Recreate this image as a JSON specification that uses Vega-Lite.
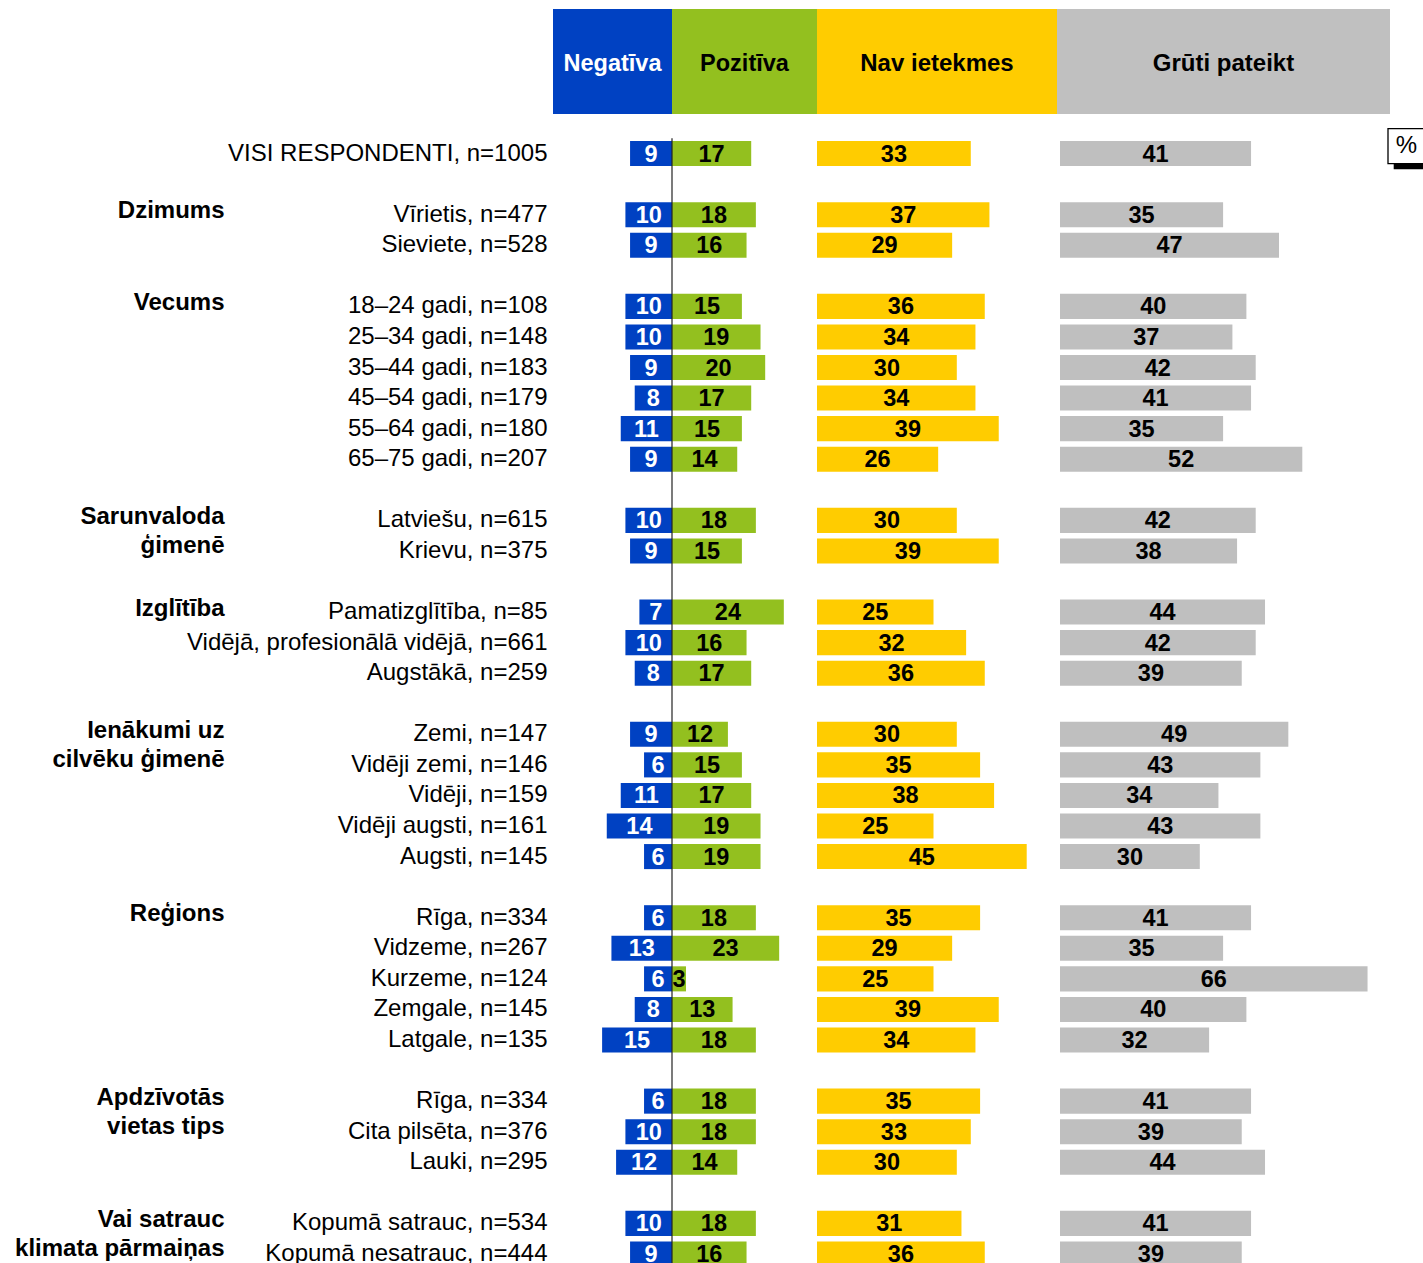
{
  "$schema": "https://vega.github.io/schema/vega-lite/v6.json",
  "padding": {"top": 9, "left": 0, "right": 0, "bottom": 0},
  "background": "white",
  "config": {"font": "Liberation Sans", "view": {"stroke": null}},
  "bounds": "full",
  "spacing": 13.25,
  "datasets": {
    "d": [
      {"row": "|VISI RESPONDENTI, n=1005", "neg": 9, "pos": 17, "none": 33, "hard": 41},
      {"row": "Dzimums|Vīrietis, n=477", "neg": 10, "pos": 18, "none": 37, "hard": 35},
      {"row": "|Sieviete, n=528", "neg": 9, "pos": 16, "none": 29, "hard": 47},
      {"row": "Vecums|18–24 gadi, n=108", "neg": 10, "pos": 15, "none": 36, "hard": 40},
      {"row": "|25–34 gadi, n=148", "neg": 10, "pos": 19, "none": 34, "hard": 37},
      {"row": "|35–44 gadi, n=183", "neg": 9, "pos": 20, "none": 30, "hard": 42},
      {"row": "|45–54 gadi, n=179", "neg": 8, "pos": 17, "none": 34, "hard": 41},
      {"row": "|55–64 gadi, n=180", "neg": 11, "pos": 15, "none": 39, "hard": 35},
      {"row": "|65–75 gadi, n=207", "neg": 9, "pos": 14, "none": 26, "hard": 52},
      {"row": "Sarunvaloda~ģimenē|Latviešu, n=615", "neg": 10, "pos": 18, "none": 30, "hard": 42},
      {"row": "|Krievu, n=375", "neg": 9, "pos": 15, "none": 39, "hard": 38},
      {"row": "Izglītība|Pamatizglītība, n=85", "neg": 7, "pos": 24, "none": 25, "hard": 44},
      {"row": "|Vidējā, profesionālā vidējā, n=661", "neg": 10, "pos": 16, "none": 32, "hard": 42},
      {"row": "|Augstākā, n=259", "neg": 8, "pos": 17, "none": 36, "hard": 39},
      {"row": "Ienākumi uz~cilvēku ģimenē|Zemi, n=147", "neg": 9, "pos": 12, "none": 30, "hard": 49},
      {"row": "|Vidēji zemi, n=146", "neg": 6, "pos": 15, "none": 35, "hard": 43},
      {"row": "|Vidēji, n=159", "neg": 11, "pos": 17, "none": 38, "hard": 34},
      {"row": "|Vidēji augsti, n=161", "neg": 14, "pos": 19, "none": 25, "hard": 43},
      {"row": "|Augsti, n=145", "neg": 6, "pos": 19, "none": 45, "hard": 30},
      {"row": "Reģions|Rīga, n=334", "neg": 6, "pos": 18, "none": 35, "hard": 41},
      {"row": "|Vidzeme, n=267", "neg": 13, "pos": 23, "none": 29, "hard": 35},
      {"row": "|Kurzeme, n=124", "neg": 6, "pos": 3, "none": 25, "hard": 66},
      {"row": "|Zemgale, n=145", "neg": 8, "pos": 13, "none": 39, "hard": 40},
      {"row": "|Latgale, n=135", "neg": 15, "pos": 18, "none": 34, "hard": 32},
      {"row": "Apdzīvotās~vietas tips|Rīga, n=334", "neg": 6, "pos": 18, "none": 35, "hard": 41},
      {"row": "|Cita pilsēta, n=376", "neg": 10, "pos": 18, "none": 33, "hard": 39},
      {"row": "|Lauki, n=295", "neg": 12, "pos": 14, "none": 30, "hard": 44},
      {"row": "Vai satrauc~klimata pārmaiņas|Kopumā satrauc, n=534", "neg": 10, "pos": 18, "none": 31, "hard": 41},
      {"row": "|Kopumā nesatrauc, n=444", "neg": 9, "pos": 16, "none": 36, "hard": 39}
    ]
  },
  "vconcat": [
    {
      "bounds": "flush",
      "spacing": 0,
      "hconcat": [
        {"width": 553, "height": 105, "data": {"values": [{"h": ""}]}, "mark": {"type": "text"}, "encoding": {"text": {"field": "h"}}},
        {"width": 119, "height": 105, "view": {"fill": "#0041C2", "stroke": null}, "data": {"values": [{"h": "Negatīva"}]}, "mark": {"type": "text", "fontSize": 23.5, "fontWeight": "bold", "fill": "white", "dy": 2}, "encoding": {"text": {"field": "h"}}},
        {"width": 145, "height": 105, "view": {"fill": "#93C01F", "stroke": null}, "data": {"values": [{"h": "Pozitīva"}]}, "mark": {"type": "text", "fontSize": 23.5, "fontWeight": "bold", "fill": "black", "dy": 2}, "encoding": {"text": {"field": "h"}}},
        {"width": 240, "height": 105, "view": {"fill": "#FFCC00", "stroke": null}, "data": {"values": [{"h": "Nav ietekmes"}]}, "mark": {"type": "text", "fontSize": 24, "fontWeight": "bold", "fill": "black", "dy": 2}, "encoding": {"text": {"field": "h"}}},
        {"width": 333, "height": 105, "view": {"fill": "#C0C0C0", "stroke": null}, "data": {"values": [{"h": "Grūti pateikt"}]}, "mark": {"type": "text", "fontSize": 24, "fontWeight": "bold", "fill": "black", "dy": 2}, "encoding": {"text": {"field": "h"}}}
      ]
    },
    {
      "bounds": "flush",
      "spacing": 0,
      "hconcat": [
        {
          "width": 553, "height": 1131,
          "data": {"name": "d"},
          "mark": {"type": "text", "text": ""},
          "encoding": {
            "y": {"field": "row", "type": "nominal",
              "scale": {"paddingInner": 0.18, "paddingOuter": 0.09, "domain": ["|VISI RESPONDENTI, n=1005", "_1|", "Dzimums|Vīrietis, n=477", "|Sieviete, n=528", "_2|", "Vecums|18–24 gadi, n=108", "|25–34 gadi, n=148", "|35–44 gadi, n=183", "|45–54 gadi, n=179", "|55–64 gadi, n=180", "|65–75 gadi, n=207", "_3|", "Sarunvaloda~ģimenē|Latviešu, n=615", "|Krievu, n=375", "_4|", "Izglītība|Pamatizglītība, n=85", "|Vidējā, profesionālā vidējā, n=661", "|Augstākā, n=259", "_5|", "Ienākumi uz~cilvēku ģimenē|Zemi, n=147", "|Vidēji zemi, n=146", "|Vidēji, n=159", "|Vidēji augsti, n=161", "|Augsti, n=145", "_6|", "Reģions|Rīga, n=334", "|Vidzeme, n=267", "|Kurzeme, n=124", "|Zemgale, n=145", "|Latgale, n=135", "_7|", "Apdzīvotās~vietas tips|Rīga, n=334", "|Cita pilsēta, n=376", "|Lauki, n=295", "_8|", "Vai satrauc~klimata pārmaiņas|Kopumā satrauc, n=534", "|Kopumā nesatrauc, n=444"]},
              "axis": {"orient": "left", "title": null, "ticks": false, "tickSize": 0, "domain": false, "labelPadding": -224, "labelExpr": "indexof(datum.label, '_') == 0 ? '' : split(split(datum.label, '|')[0], '~')", "labelFontSize": 24, "labelFontWeight": "bold", "labelColor": "#000000", "labelBaseline": "top", "labelOffset": -16, "labelLineHeight": 29, "labelLimit": 0, "labelOverlap": false}
            }
          }
        },
        {
          "width": 119, "height": 1131,
          "data": {"name": "d"},
          "encoding": {
            "y": {"field": "row", "type": "nominal",
              "scale": {"paddingInner": 0.18, "paddingOuter": 0.09, "domain": ["|VISI RESPONDENTI, n=1005", "_1|", "Dzimums|Vīrietis, n=477", "|Sieviete, n=528", "_2|", "Vecums|18–24 gadi, n=108", "|25–34 gadi, n=148", "|35–44 gadi, n=183", "|45–54 gadi, n=179", "|55–64 gadi, n=180", "|65–75 gadi, n=207", "_3|", "Sarunvaloda~ģimenē|Latviešu, n=615", "|Krievu, n=375", "_4|", "Izglītība|Pamatizglītība, n=85", "|Vidējā, profesionālā vidējā, n=661", "|Augstākā, n=259", "_5|", "Ienākumi uz~cilvēku ģimenē|Zemi, n=147", "|Vidēji zemi, n=146", "|Vidēji, n=159", "|Vidēji augsti, n=161", "|Augsti, n=145", "_6|", "Reģions|Rīga, n=334", "|Vidzeme, n=267", "|Kurzeme, n=124", "|Zemgale, n=145", "|Latgale, n=135", "_7|", "Apdzīvotās~vietas tips|Rīga, n=334", "|Cita pilsēta, n=376", "|Lauki, n=295", "_8|", "Vai satrauc~klimata pārmaiņas|Kopumā satrauc, n=534", "|Kopumā nesatrauc, n=444"]},
              "axis": {"orient": "left", "title": null, "ticks": false, "tickSize": 0, "domain": false, "labelPadding": 6, "labelExpr": "split(datum.label, '|')[1]", "labelFontSize": 24, "labelColor": "#000000", "labelLimit": 0, "labelOverlap": false}
            }
          },
          "layer": [
            {"mark": {"type": "bar", "fill": "#0041C2"}, "encoding": {"x": {"field": "neg", "type": "quantitative", "scale": {"domain": [0, 25.54], "reverse": true, "nice": false, "zero": false}, "axis": null}}},
            {"mark": {"type": "text", "fontSize": 23.5, "fontWeight": "bold", "fill": "white", "dy": 1}, "encoding": {"x": {"field": "neg", "type": "quantitative", "scale": {"domain": [0, 51.08], "reverse": true, "nice": false, "zero": false}, "axis": null}, "text": {"field": "neg", "type": "quantitative"}}}
          ],
          "resolve": {"scale": {"x": "independent"}}
        },
        {
          "width": 145, "height": 1131,
          "layer": [
            {"data": {"name": "d"}, "mark": {"type": "bar", "fill": "#93C01F"}, "encoding": {
              "y": {"field": "row", "type": "nominal", "axis": null, "scale": {"paddingInner": 0.18, "paddingOuter": 0.09, "domain": ["|VISI RESPONDENTI, n=1005", "_1|", "Dzimums|Vīrietis, n=477", "|Sieviete, n=528", "_2|", "Vecums|18–24 gadi, n=108", "|25–34 gadi, n=148", "|35–44 gadi, n=183", "|45–54 gadi, n=179", "|55–64 gadi, n=180", "|65–75 gadi, n=207", "_3|", "Sarunvaloda~ģimenē|Latviešu, n=615", "|Krievu, n=375", "_4|", "Izglītība|Pamatizglītība, n=85", "|Vidējā, profesionālā vidējā, n=661", "|Augstākā, n=259", "_5|", "Ienākumi uz~cilvēku ģimenē|Zemi, n=147", "|Vidēji zemi, n=146", "|Vidēji, n=159", "|Vidēji augsti, n=161", "|Augsti, n=145", "_6|", "Reģions|Rīga, n=334", "|Vidzeme, n=267", "|Kurzeme, n=124", "|Zemgale, n=145", "|Latgale, n=135", "_7|", "Apdzīvotās~vietas tips|Rīga, n=334", "|Cita pilsēta, n=376", "|Lauki, n=295", "_8|", "Vai satrauc~klimata pārmaiņas|Kopumā satrauc, n=534", "|Kopumā nesatrauc, n=444"]}},
              "x": {"field": "pos", "type": "quantitative", "scale": {"domain": [0, 31.12], "nice": false, "zero": false}, "axis": null}}},
            {"data": {"name": "d"}, "mark": {"type": "text", "fontSize": 23.5, "fontWeight": "bold", "fill": "black", "dy": 1}, "encoding": {
              "y": {"field": "row", "type": "nominal", "axis": null},
              "x": {"field": "pos", "type": "quantitative", "scale": {"domain": [0, 62.24], "nice": false, "zero": false}, "axis": null},
              "text": {"field": "pos", "type": "quantitative"}}},
            {"data": {"values": [{}]}, "mark": {"type": "rule", "stroke": "#222222", "strokeWidth": 1.2}, "encoding": {
              "x": {"datum": 0, "type": "quantitative", "scale": {"domain": [0, 31.12], "nice": false, "zero": false}, "axis": null}}}
          ],
          "resolve": {"scale": {"x": "independent"}}
        },
        {
          "width": 240, "height": 1131,
          "data": {"name": "d"},
          "encoding": {
            "y": {"field": "row", "type": "nominal", "axis": null,
              "scale": {"paddingInner": 0.18, "paddingOuter": 0.09, "domain": ["|VISI RESPONDENTI, n=1005", "_1|", "Dzimums|Vīrietis, n=477", "|Sieviete, n=528", "_2|", "Vecums|18–24 gadi, n=108", "|25–34 gadi, n=148", "|35–44 gadi, n=183", "|45–54 gadi, n=179", "|55–64 gadi, n=180", "|65–75 gadi, n=207", "_3|", "Sarunvaloda~ģimenē|Latviešu, n=615", "|Krievu, n=375", "_4|", "Izglītība|Pamatizglītība, n=85", "|Vidējā, profesionālā vidējā, n=661", "|Augstākā, n=259", "_5|", "Ienākumi uz~cilvēku ģimenē|Zemi, n=147", "|Vidēji zemi, n=146", "|Vidēji, n=159", "|Vidēji augsti, n=161", "|Augsti, n=145", "_6|", "Reģions|Rīga, n=334", "|Vidzeme, n=267", "|Kurzeme, n=124", "|Zemgale, n=145", "|Latgale, n=135", "_7|", "Apdzīvotās~vietas tips|Rīga, n=334", "|Cita pilsēta, n=376", "|Lauki, n=295", "_8|", "Vai satrauc~klimata pārmaiņas|Kopumā satrauc, n=534", "|Kopumā nesatrauc, n=444"]}}
          },
          "layer": [
            {"mark": {"type": "bar", "fill": "#FFCC00"}, "encoding": {"x": {"field": "none", "type": "quantitative", "scale": {"domain": [0, 51.5], "nice": false, "zero": false}, "axis": null}}},
            {"mark": {"type": "text", "fontSize": 23.5, "fontWeight": "bold", "fill": "black", "dy": 1}, "encoding": {"x": {"field": "none", "type": "quantitative", "scale": {"domain": [0, 103], "nice": false, "zero": false}, "axis": null}, "text": {"field": "none", "type": "quantitative"}}}
          ],
          "resolve": {"scale": {"x": "independent"}}
        },
        {
          "width": 333, "height": 1131,
          "data": {"name": "d"},
          "encoding": {
            "y": {"field": "row", "type": "nominal", "axis": null,
              "scale": {"paddingInner": 0.18, "paddingOuter": 0.09, "domain": ["|VISI RESPONDENTI, n=1005", "_1|", "Dzimums|Vīrietis, n=477", "|Sieviete, n=528", "_2|", "Vecums|18–24 gadi, n=108", "|25–34 gadi, n=148", "|35–44 gadi, n=183", "|45–54 gadi, n=179", "|55–64 gadi, n=180", "|65–75 gadi, n=207", "_3|", "Sarunvaloda~ģimenē|Latviešu, n=615", "|Krievu, n=375", "_4|", "Izglītība|Pamatizglītība, n=85", "|Vidējā, profesionālā vidējā, n=661", "|Augstākā, n=259", "_5|", "Ienākumi uz~cilvēku ģimenē|Zemi, n=147", "|Vidēji zemi, n=146", "|Vidēji, n=159", "|Vidēji augsti, n=161", "|Augsti, n=145", "_6|", "Reģions|Rīga, n=334", "|Vidzeme, n=267", "|Kurzeme, n=124", "|Zemgale, n=145", "|Latgale, n=135", "_7|", "Apdzīvotās~vietas tips|Rīga, n=334", "|Cita pilsēta, n=376", "|Lauki, n=295", "_8|", "Vai satrauc~klimata pārmaiņas|Kopumā satrauc, n=534", "|Kopumā nesatrauc, n=444"]}}
          },
          "layer": [
            {"mark": {"type": "bar", "fill": "#BFBFBF"}, "encoding": {"x": {"field": "hard", "type": "quantitative", "scale": {"domain": [-0.644, 70.82], "nice": false, "zero": false}, "axis": null}}},
            {"mark": {"type": "text", "fontSize": 23.5, "fontWeight": "bold", "fill": "black", "dy": 1}, "encoding": {"x": {"field": "hard", "type": "quantitative", "scale": {"domain": [-1.288, 141.63], "nice": false, "zero": false}, "axis": null}, "text": {"field": "hard", "type": "quantitative"}}}
          ],
          "resolve": {"scale": {"x": "independent"}}
        },
        {
          "width": 33, "height": 1131,
          "data": {"values": [{"row": "|VISI RESPONDENTI, n=1005", "u": "%"}]},
          "encoding": {
            "y": {"field": "row", "type": "nominal", "axis": null,
              "scale": {"paddingInner": 0.18, "paddingOuter": 0.09, "domain": ["|VISI RESPONDENTI, n=1005", "_1|", "Dzimums|Vīrietis, n=477", "|Sieviete, n=528", "_2|", "Vecums|18–24 gadi, n=108", "|25–34 gadi, n=148", "|35–44 gadi, n=183", "|45–54 gadi, n=179", "|55–64 gadi, n=180", "|65–75 gadi, n=207", "_3|", "Sarunvaloda~ģimenē|Latviešu, n=615", "|Krievu, n=375", "_4|", "Izglītība|Pamatizglītība, n=85", "|Vidējā, profesionālā vidējā, n=661", "|Augstākā, n=259", "_5|", "Ienākumi uz~cilvēku ģimenē|Zemi, n=147", "|Vidēji zemi, n=146", "|Vidēji, n=159", "|Vidēji augsti, n=161", "|Augsti, n=145", "_6|", "Reģions|Rīga, n=334", "|Vidzeme, n=267", "|Kurzeme, n=124", "|Zemgale, n=145", "|Latgale, n=135", "_7|", "Apdzīvotās~vietas tips|Rīga, n=334", "|Cita pilsēta, n=376", "|Lauki, n=295", "_8|", "Vai satrauc~klimata pārmaiņas|Kopumā satrauc, n=534", "|Kopumā nesatrauc, n=444"]}}
          },
          "layer": [
            {"mark": {"type": "bar", "fill": "black", "size": 5.6, "yOffset": 13, "xOffset": 3.7, "x2Offset": 10}, "encoding": {"x": {"datum": 0, "type": "quantitative", "scale": {"domain": [0, 1], "nice": false}, "axis": null}, "x2": {"datum": 1}}},
            {"mark": {"type": "bar", "fill": "white", "stroke": "black", "strokeWidth": 1.3, "size": 35, "yOffset": -7.5, "xOffset": -2, "x2Offset": 10}, "encoding": {"x": {"datum": 0, "type": "quantitative", "scale": {"domain": [0, 1], "nice": false}, "axis": null}, "x2": {"datum": 1}}},
            {"mark": {"type": "text", "fontSize": 24, "fill": "black", "dy": -7.5}, "encoding": {"text": {"field": "u", "type": "nominal"}}}
          ]
        }
      ]
    }
  ]
}
